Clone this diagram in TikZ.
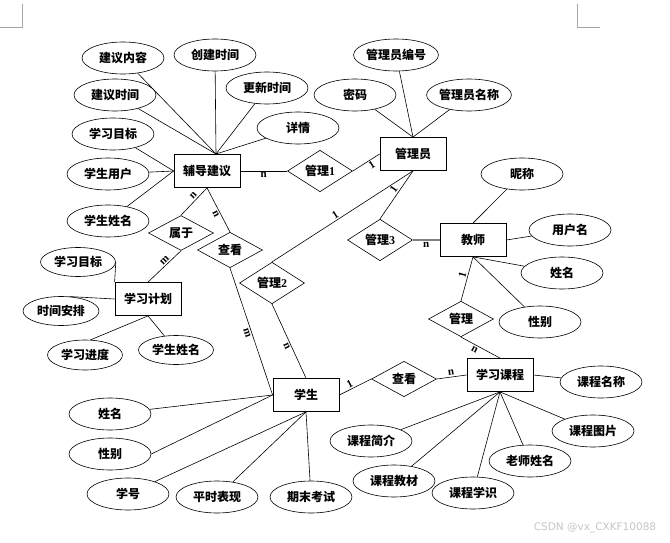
\documentclass[tikz,border=0pt]{standalone}
\usepackage{fontspec}
\setmainfont{Liberation Serif}
\newfontfamily\cjk{Noto Sans CJK SC}
\newfontfamily\wmfont{DejaVu Sans}
\usetikzlibrary{shapes.geometric}

\begin{document}
\begin{tikzpicture}[x=1pt,y=-1pt,
  ent/.style={rectangle, draw, line width=0.8pt, minimum width=66pt,
    minimum height=33pt, inner sep=0pt, font=\cjk\bfseries\fontsize{12}{14}\selectfont},
  attr/.style={ellipse, draw, line width=0.6pt, minimum width=82pt,
    minimum height=32pt, inner sep=0pt, font=\cjk\bfseries\fontsize{12}{14}\selectfont},
  rel/.style={diamond, draw, line width=0.6pt, minimum width=65pt,
    minimum height=33pt, inner sep=0pt, font=\cjk\bfseries\fontsize{12}{14}\selectfont},
  ln/.style={line width=0.6pt},
  card/.style={font=\bfseries\fontsize{11}{11}\selectfont, inner sep=1.5pt, sloped},
  cropmark/.style={draw=gray!70, line width=0.6pt}
]
  \useasboundingbox (0,0) rectangle (670,543);

  % crop marks
  \coordinate (tl1) at (0,27);
  \coordinate (tl2) at (22,27);
  \coordinate (tl3) at (22,4);
  \coordinate (tr1) at (577,4);
  \coordinate (tr2) at (577,27);
  \coordinate (tr3) at (600,27);
  \draw[cropmark] (tl1) -- (tl2) -- (tl3);
  \draw[cropmark] (tr1) -- (tr2) -- (tr3);

  % entities
  \node[ent] (fdjy) at (207,171) {辅导建议};
  \node[ent] (gly)  at (413,154) {管理员};
  \node[ent] (js)   at (473,240) {教师};
  \node[ent] (xxjh) at (148,299) {学习计划};
  \node[ent] (xs)   at (306,395) {学生};
  \node[ent] (xxkc) at (500,375) {学习课程};

  % relations
  \node[rel] (gl1) at (320,171) {管理{\rmfamily 1}};
  \node[rel] (gl3) at (380,240) {管理{\rmfamily 3}};
  \node[rel] (gl2) at (272,283) {管理{\rmfamily 2}};
  \node[rel] (sy)  at (181,233) {属于};
  \node[rel] (ck1) at (230,250) {查看};
  \node[rel] (ck2) at (404,379) {查看};
  \node[rel] (gl)  at (461,319) {管理};

  % attributes of 辅导建议
  \node[attr] (jynr)  at (123,58)  {建议内容};
  \node[attr] (cjsj)  at (215,55)  {创建时间};
  \node[attr] (jysj)  at (115,95)  {建议时间};
  \node[attr] (gxsj)  at (267,88)  {更新时间};
  \node[attr] (xxmb1) at (113,134) {学习目标};
  \node[attr] (xq)    at (298,128) {详情};
  \node[attr] (xsyh)  at (108,174) {学生用户};
  \node[attr] (xsxm1) at (108,221) {学生姓名};
  \coordinate (fdjytop) at (216,154);
  \foreach \a in {jynr,cjsj,jysj,gxsj,xq}
    \draw[ln] (\a) -- (fdjytop);
  \foreach \a in {xxmb1,xsyh,xsxm1}
    \draw[ln] (\a) -- (fdjy.west);

  % attributes of 管理员
  \node[attr] (glybh) at (396,55) {管理员编号};
  \node[attr] (mm)    at (355,95) {密码};
  \node[attr] (glymc) at (469,95) {管理员名称};
  \foreach \a in {glybh,mm,glymc}
    \draw[ln] (\a) -- (gly.north);

  % attributes of 教师
  \node[attr] (nc)   at (522,174) {昵称};
  \node[attr] (yhm)  at (570,230) {用户名};
  \node[attr] (jsxm) at (562,273) {姓名};
  \node[attr] (jsxb) at (540,322) {性别};
  \draw[ln] (nc) -- (js.north);
  \draw[ln] (yhm) -- (js.east);
  \draw[ln] (jsxm) -- (js.south);
  \draw[ln] (jsxb) -- (js.south);

  % attributes of 学习计划
  \node[attr, minimum width=75pt, minimum height=29pt] (xxmb2) at (78,262)  {学习目标};
  \node[attr, minimum width=76pt, minimum height=29pt] (sjap)  at (61,311)  {时间安排};
  \node[attr, minimum width=75pt, minimum height=30pt] (xxjd)  at (85,355)  {学习进度};
  \node[attr, minimum width=75pt, minimum height=29pt] (xsxm2) at (176,350) {学生姓名};
  \draw[ln] (xxmb2.east) -- (xxjh.north west);
  \draw[ln] (sjap.60) -- (xxjh.west);
  \draw[ln] (xxjd.70) -- (xxjh.south);
  \draw[ln] (xsxm2) -- (xxjh.south);

  % attributes of 学生
  \node[attr] (xsxm) at (110,414) {姓名};
  \node[attr] (xsxb) at (110,454) {性别};
  \node[attr] (xh)   at (128,494) {学号};
  \node[attr] (psbx) at (217,497) {平时表现};
  \node[attr] (qmks) at (311,497) {期末考试};
  \draw[ln] (xsxm) -- (xs.west);
  \draw[ln] (xsxb.east) -- (xs.west);
  \foreach \a in {xh,psbx,qmks}
    \draw[ln] (\a) -- (xs.south);

  % attributes of 学习课程
  \node[attr] (kcmc) at (601,382) {课程名称};
  \node[attr] (kctp) at (593,431) {课程图片};
  \node[attr] (lsxm) at (530,461) {老师姓名};
  \node[attr] (kcxs) at (473,493) {课程学识};
  \node[attr] (kcjc) at (394,481) {课程教材};
  \node[attr] (kcjj) at (371,441) {课程简介};
  \draw[ln] (kcmc) -- (xxkc.east);
  \foreach \a in {kctp,lsxm,kcxs,kcjc,kcjj}
    \draw[ln] (\a) -- (xxkc.south);

  % relationships
  \draw[ln] (fdjy.east) -- node[card, below] {n} (gl1.west);
  \draw[ln] (gl1.east) -- node[card, below, pos=0.6] {1} (gly.west);
  \draw[ln] (fdjy.south) -- node[card, above, pos=0.4] {n} (sy.north);
  \draw[ln] (sy.south) -- node[card, above, pos=0.4] {m} (xxjh.north);
  \draw[ln] (fdjy.south) -- node[card, below, pos=0.55] {n} (ck1.north);
  \draw[ln] (ck1.south) -- node[card, below, pos=0.5] {m} (xs.west);
  \draw[ln] (gl2.north) -- node[card, above, pos=0.47] {1} (gly.south);
  \draw[ln] (gl2.south) -- node[card, below, pos=0.55] {n} (xs.north);
  \draw[ln] (gl3.north) -- node[card, above, pos=0.55] {1} (gly.south);
  \draw[draw=gray, line width=1.1pt] (gl3.east) -- node[card, below, text=black] {n} (js.west);
  \draw[ln] (gl.north) -- node[card, above, pos=0.55] {1} (js.south);
  \draw[ln] (gl.south) -- node[card, below, pos=0.4] {n} (xxkc.north);
  \draw[ln] (xs.east) -- node[card, above, pos=0.4] {1} (ck2.west);
  \draw[ln] (ck2.east) -- node[card, above] {n} (xxkc.west);

  % watermark
  \node[font=\wmfont\fontsize{10.5}{12}\selectfont, text=gray!45] (wm) at (595,528) {CSDN @vx\_CXKF10088};
\end{tikzpicture}
\end{document}
